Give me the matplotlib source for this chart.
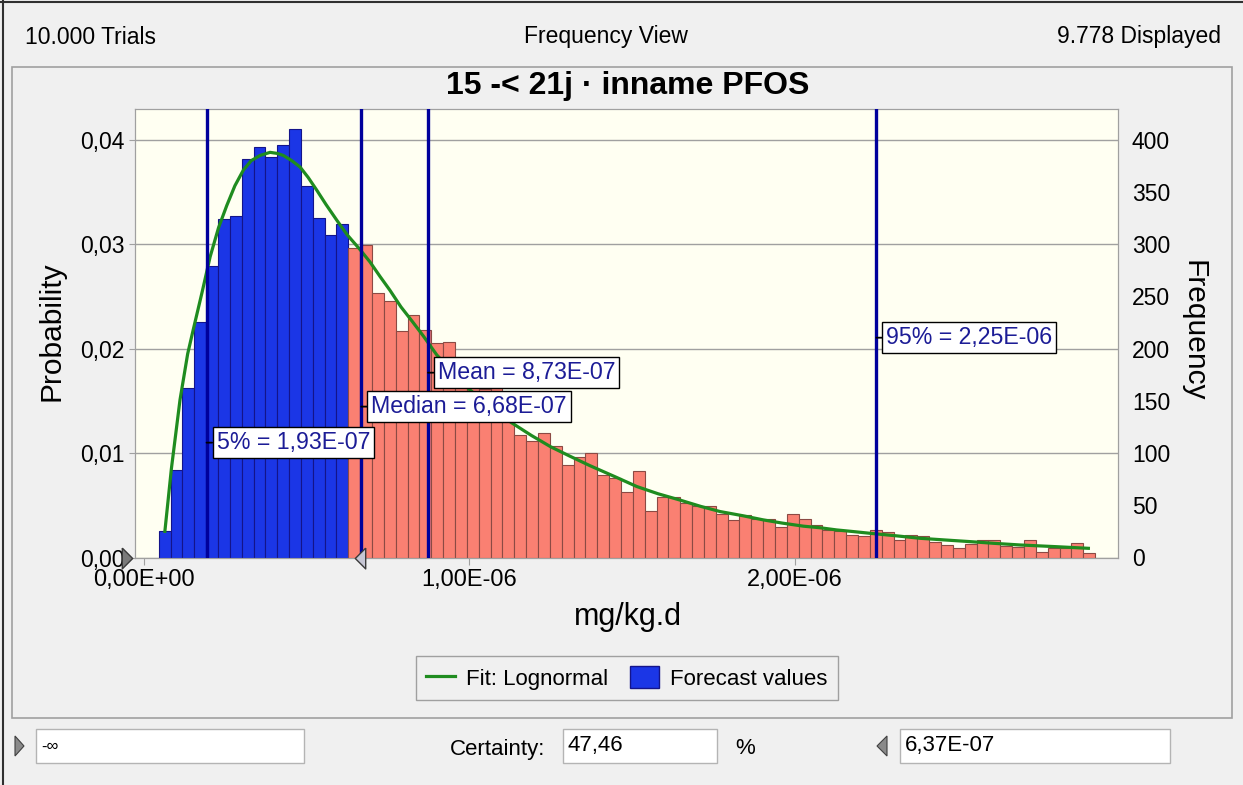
import numpy as np
import matplotlib
matplotlib.use("Agg")
import matplotlib.pyplot as plt
import matplotlib.transforms as mtransforms
from matplotlib.patches import Rectangle, Polygon, Patch
from matplotlib.lines import Line2D
from matplotlib.path import Path

plt.rcParams.update({
    "font.family": ["Liberation Sans", "DejaVu Sans"],
    "font.size": 16,
    "figure.facecolor": "#f0f0f0",
})

# --- data ---
n_trials = 10000
n_displayed = 9778
bin_start = 4.6e-8
bin_width = 3.64e-8

# frequency per bin (79 bins)
freq = [25, 84, 162, 226, 279, 324, 327, 382, 393, 384,
        395, 410, 356, 325, 309, 319, 296, 299, 253, 246,
        217, 232, 218, 205, 206, 185, 178, 161, 163, 150,
        117, 112, 119, 107, 89, 96, 100, 79, 76, 63,
        83, 45, 58, 58, 52, 49, 49, 42, 36, 41,
        37, 37, 29, 42, 37, 31, 26, 25, 22, 21,
        26, 24, 17, 22, 21, 15, 12, 9, 13, 17,
        17, 11, 10, 17, 5, 9, 9, 14, 4]

# lognormal fit curve (x in 1e-6 mg/kg.d, y in frequency)
fit_x = [0.065, 0.085, 0.1115, 0.135, 0.152, 0.18, 0.204, 0.23, 0.255, 0.28,
         0.306, 0.33, 0.357, 0.388, 0.41, 0.429, 0.455, 0.48, 0.505, 0.531,
         0.56, 0.593, 0.625, 0.664, 0.695, 0.726, 0.756, 0.79, 0.825, 0.859,
         0.90, 0.95, 1.00, 1.065, 1.13, 1.19, 1.25, 1.309, 1.37, 1.45,
         1.514, 1.58, 1.647, 1.71, 1.77, 1.84, 1.903, 1.96, 2.026, 2.077,
         2.128, 2.18, 2.23, 2.31, 2.384, 2.46, 2.538, 2.61, 2.691, 2.80, 2.901]
fit_y = [25, 85, 151, 195, 218, 255, 288, 316, 337, 356,
         371, 380, 385, 388, 387, 385, 380, 374, 364, 352,
         338, 323, 309, 295, 283, 269, 256, 240, 226, 212,
         194, 177, 161, 144, 129, 117, 106, 97, 88, 77,
         68, 61, 55, 49, 44, 40, 36, 33, 30, 28.5,
         26.4, 24.8, 23.2, 20.8, 18.4, 16.8, 15.2, 13.6, 12, 10.4, 8.8]

stat_names = ["5%", "Median", "Mean", "95%"]
stat_values = [1.93e-7, 6.68e-7, 8.73e-7, 2.25e-6]

certainty_lower = "-\u221e"
certainty_upper = 6.37e-7
certainty = 47.46

title = "15 -< 21j \u00b7 inname PFOS"
x_label = "mg/kg.d"

W, H = 1243, 785


def fx(x):
    return x / W


def fy(y):
    return 1 - y / H


def sci(v):
    return f"{v:.2E}".replace(".", ",")


fig = plt.figure(figsize=(W / 100, H / 100), dpi=100)

# window frame + chart panel
fig.add_artist(Line2D([0, 1], [fy(1.5), fy(1.5)], color="#303030", lw=1.5))
fig.add_artist(Line2D([fx(2.5), fx(2.5)], [0, 1], color="#303030", lw=1.5))
fig.add_artist(Rectangle((fx(12), fy(718)), fx(1232) - fx(12), fy(67) - fy(718),
                         transform=fig.transFigure, fill=False, ec="#a0a0a0", lw=1.2))

# header
fig.text(fx(25), fy(37), f"{n_trials:,} Trials".replace(",", "."), ha="left", va="center", fontsize=16.5)
fig.text(fx(606), fy(37), "Frequency View", ha="center", va="center", fontsize=16.5)
fig.text(fx(1221), fy(37), f"{n_displayed:,} Displayed".replace(",", "."), ha="right", va="center", fontsize=16.5)
fig.text(fx(628), fy(86), title, ha="center", va="center", fontsize=23, fontweight="bold")

# plot area
ax = fig.add_axes([fx(135.3), fy(557.5), fx(1118) - fx(135.3), fy(108.5) - fy(557.5)])
ax2 = ax.twinx()
ax.set_facecolor("#fffff2")
ax.set_xlim(-2.58e-8, 2.992e-6)
ax.set_ylim(0, 430 / n_trials)
ax2.set_ylim(0, 430)

ax.set_yticks([0, 0.01, 0.02, 0.03, 0.04])
ax.set_yticklabels([f"{v:.2f}".replace(".", ",") for v in ax.get_yticks()])
ax.yaxis.grid(True, color="#a0a0a0", lw=1)
ax.set_axisbelow(True)
ax.tick_params(axis="y", length=4, color="#a0a0a0", labelsize=16.5, pad=4)

ax2.set_yticks(range(0, 401, 50))
ax2.tick_params(axis="y", length=0, labelsize=16.5, pad=10)

ax.set_xticks([0, 1e-6, 2e-6])
ax.set_xticklabels([sci(v) for v in ax.get_xticks()])
ax.tick_params(axis="x", length=5, color="#a0a0a0", labelsize=17, pad=3)

for a in (ax, ax2):
    for s in a.spines.values():
        s.set_color("#a0a0a0")

# histogram
lefts = bin_start + bin_width * np.arange(len(freq))
is_in = (lefts + bin_width) <= certainty_upper + 1e-12
colors = np.where(is_in, "#1b36e6", "#fa8072")
edges = np.where(is_in, "#14148a", "#8c4a44")
ax2.bar(lefts, freq, width=bin_width, align="edge", color=colors,
        edgecolor=edges, linewidth=0.8, zorder=2)

# fit curve
ax2.plot(np.array(fit_x) * 1e-6, fit_y, color="#1f8c1f", lw=2.3, zorder=3)

# statistic lines + labels
label_y = [110, 144.5, 177, 210.5]
for name, v, ly in zip(stat_names, stat_values, label_y):
    ax2.axvline(v, color="#00009c", lw=2.4, zorder=4)
    ax2.annotate(f"{name} = {sci(v)}", xy=(v, ly), xytext=(10, 0),
                 textcoords="offset pixels", ha="left", va="center",
                 fontsize=16.7, color="#1c1c96", zorder=6,
                 bbox=dict(boxstyle="square,pad=0.17", fc="white", ec="black", lw=1),
                 arrowprops=dict(arrowstyle="-", color="black", lw=1.3,
                                 shrinkA=0, shrinkB=0))

# certainty grabbers on the x axis
right_tri = Path([(-0.5, 1), (0.5, 0), (-0.5, -1), (-0.5, 1)])
left_tri = Path([(0.5, 1), (-0.5, 0), (0.5, -1), (0.5, 1)])
ax.plot([-0.0085], [0], transform=ax.transAxes, marker=right_tri, ms=15,
        mfc="#7a7a7a", mec="#3a3a3a", mew=1, clip_on=False, zorder=10)
ax2.plot([certainty_upper], [0],
         transform=mtransforms.offset_copy(ax2.transData, fig=fig, x=9, y=0, units="dots"),
         marker=left_tri, ms=15, mfc="#c6c6d4", mec="#3a3a3a", mew=1,
         clip_on=False, zorder=10)

# axis titles
fig.text(fx(52), fy(331), "Probability", rotation=90, ha="center", va="center", fontsize=21.5)
fig.text(fx(1193), fy(331), "Frequency", rotation=270, ha="center", va="center", fontsize=21.5)
fig.text(fx(628), fy(617), x_label, ha="center", va="center", fontsize=22)

# legend
handles = [Line2D([], [], color="#1f8c1f", lw=2.3),
           Patch(facecolor="#1b36e6", edgecolor="#14148a")]
fig.legend(handles, ["Fit: Lognormal", "Forecast values"], loc="center",
           bbox_to_anchor=(fx(627), fy(678)), ncol=2, fontsize=16,
           frameon=True, fancybox=False, facecolor="#f0f0f0", edgecolor="#a0a0a0",
           framealpha=1, handlelength=1.3, handleheight=1.1, columnspacing=1.0,
           handletextpad=0.5, borderpad=0.45)

# certainty controls below the chart
def text_box(x0, x1, txt, size=16):
    fig.add_artist(Rectangle((fx(x0), fy(763)), fx(x1) - fx(x0), fy(729) - fy(763),
                             transform=fig.transFigure, fc="white", ec="#b4b4b4", lw=1))
    fig.text(fx(x0 + 5), fy(746), txt, ha="left", va="center", fontsize=size)


def grabber(points):
    fig.add_artist(Polygon([(fx(px), fy(py)) for px, py in points], closed=True,
                           transform=fig.transFigure, fc="#8a8a8a", ec="#404040", lw=0.8))


grabber([(15, 736), (24, 746), (15, 756)])
text_box(36, 304, certainty_lower, size=12)
fig.text(fx(450), fy(749), "Certainty:", ha="left", va="center", fontsize=16)
text_box(563, 717, f"{certainty:.2f}".replace(".", ","))
fig.text(fx(735), fy(749), "%", ha="left", va="center", fontsize=16)
grabber([(887, 736), (877, 746), (887, 756)])
text_box(900, 1170, sci(certainty_upper))

fig.savefig("out.png", dpi=100, facecolor=fig.get_facecolor())
